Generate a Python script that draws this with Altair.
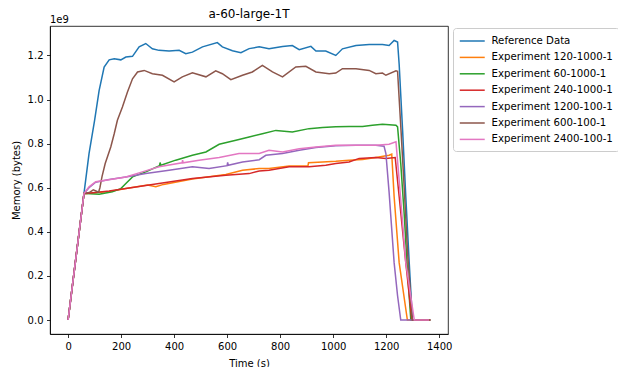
import altair as alt
import pandas as pd

chart_title = "a-60-large-1T"
series_names = [
    "Reference Data",
    "Experiment 120-1000-1",
    "Experiment 60-1000-1",
    "Experiment 240-1000-1",
    "Experiment 1200-100-1",
    "Experiment 600-100-1",
    "Experiment 2400-100-1",
]
series_colors = ["#1f77b4", "#ff7f0e", "#2ca02c", "#d62728", "#9467bd", "#8c564b", "#e377c2"]

# Memory in units of 1e9 bytes
ref_t = [0, 60, 79, 100, 117, 136, 155, 174, 199, 218, 243, 268, 293, 318, 343, 381, 419, 444, 469, 507,
         563, 582, 620, 652, 683, 721, 758, 809, 846, 872, 916, 935, 972, 1010, 1035, 1086, 1136, 1186,
         1211, 1230, 1243, 1249, 1262, 1274, 1287, 1299]
ref_m = [0, 0.574, 0.755, 0.906, 1.04, 1.147, 1.18, 1.185, 1.18, 1.193, 1.196, 1.239, 1.254, 1.23, 1.223,
         1.22, 1.223, 1.208, 1.215, 1.239, 1.258, 1.239, 1.221, 1.212, 1.231, 1.239, 1.23, 1.241, 1.245,
         1.226, 1.241, 1.22, 1.22, 1.2, 1.23, 1.245, 1.25, 1.25, 1.245, 1.268, 1.261, 1.16, 0.86, 0.56,
         0.26, 0]

e120_t = [0, 60, 67, 155, 218, 300, 331, 360, 469, 595, 658, 721, 758, 834, 905, 907, 960, 1010, 1060,
          1111, 1161, 1211, 1221, 1230, 1249, 1280, 1365]
e120_m = [0, 0.574, 0.574, 0.583, 0.596, 0.612, 0.604, 0.615, 0.64, 0.66, 0.679, 0.687, 0.687, 0.698,
          0.70, 0.713, 0.717, 0.72, 0.725, 0.728, 0.737, 0.747, 0.752, 0.56, 0.26, 0, 0]

e60_t = [0, 60, 67, 117, 167, 199, 218, 243, 293, 345, 347, 350, 406, 469, 520, 570, 633, 683, 733, 784,
         846, 909, 960, 1010, 1060, 1111, 1148, 1186, 1237, 1243, 1255, 1268, 1280, 1293, 1365]
e60_m = [0, 0.574, 0.574, 0.57, 0.582, 0.596, 0.619, 0.649, 0.672, 0.70, 0.714, 0.702, 0.725, 0.747,
         0.762, 0.797, 0.815, 0.83, 0.845, 0.86, 0.853, 0.868, 0.873, 0.876, 0.878, 0.878, 0.883, 0.888,
         0.883, 0.876, 0.71, 0.48, 0.23, 0, 0]

e240_t = [0, 60, 67, 155, 218, 343, 469, 595, 683, 721, 758, 834, 909, 972, 1010, 1060, 1098, 1161, 1199,
          1234, 1249, 1274, 1297, 1365]
e240_m = [0, 0.574, 0.574, 0.585, 0.596, 0.619, 0.642, 0.657, 0.664, 0.676, 0.679, 0.695, 0.695, 0.702,
          0.71, 0.717, 0.733, 0.737, 0.733, 0.737, 0.56, 0.26, 0, 0]

e1200_t = [0, 60, 79, 104, 155, 218, 293, 381, 469, 532, 600, 602, 604, 658, 721, 746, 809, 872, 935,
           1010, 1086, 1161, 1192, 1199, 1211, 1230, 1243, 1255, 1310]
e1200_m = [0, 0.574, 0.6, 0.625, 0.637, 0.649, 0.664, 0.679, 0.695, 0.687, 0.70, 0.715, 0.702, 0.717,
           0.727, 0.747, 0.755, 0.77, 0.782, 0.79, 0.793, 0.793, 0.788, 0.755, 0.58, 0.26, 0.11, 0, 0]

e600_t = [0, 60, 80, 95, 105, 115, 120, 128, 140, 161, 174, 186, 205, 224, 243, 262, 287, 318, 356, 400,
          431, 469, 520, 557, 582, 614, 658, 695, 733, 771, 809, 859, 897, 935, 985, 1010, 1035, 1086,
          1136, 1161, 1186, 1199, 1237, 1243, 1256, 1268, 1281, 1299, 1369]
e600_m = [0, 0.574, 0.578, 0.59, 0.585, 0.58, 0.6, 0.65, 0.71, 0.785, 0.845, 0.906, 0.966, 1.034, 1.094,
          1.125, 1.132, 1.117, 1.11, 1.08, 1.103, 1.121, 1.103, 1.13, 1.117, 1.09, 1.11, 1.125, 1.155,
          1.125, 1.103, 1.148, 1.151, 1.125, 1.117, 1.12, 1.14, 1.14, 1.132, 1.117, 1.12, 1.11, 1.13,
          1.128, 0.86, 0.6, 0.3, 0, 0]

e2400_t = [0, 60, 79, 104, 142, 218, 280, 343, 430, 432, 434, 494, 570, 645, 721, 758, 809, 872, 935,
           1010, 1086, 1161, 1211, 1237, 1249, 1274, 1306, 1362]
e2400_m = [0, 0.574, 0.604, 0.627, 0.634, 0.649, 0.672, 0.695, 0.713, 0.725, 0.713, 0.725, 0.737, 0.755,
           0.755, 0.77, 0.762, 0.777, 0.785, 0.793, 0.793, 0.793, 0.797, 0.808, 0.634, 0.26, 0, 0]

series_data = [
    (ref_t, ref_m), (e120_t, e120_m), (e60_t, e60_m), (e240_t, e240_m),
    (e1200_t, e1200_m), (e600_t, e600_m), (e2400_t, e2400_m),
]

rows = []
for idx, (name, (ts, ms)) in enumerate(zip(series_names, series_data)):
    for i, (t, m) in enumerate(zip(ts, ms)):
        rows.append({"series": name, "order": idx, "i": i, "t": t, "m": m})
df = pd.DataFrame(rows)

x_ticks = [0, 200, 400, 600, 800, 1000, 1200, 1400]
y_ticks = [0.0, 0.2, 0.4, 0.6, 0.8, 1.0, 1.2]

lines = alt.Chart(df).mark_line(strokeWidth=1.5, clip=True).encode(
    x=alt.X("t:Q", scale=alt.Scale(domain=[-68.25, 1433.25], nice=False, zero=False),
            axis=alt.Axis(values=x_ticks, format="d", title="Time (s)", titlePadding=7)),
    y=alt.Y("m:Q", scale=alt.Scale(domain=[-0.0635, 1.3335], nice=False, zero=False),
            axis=alt.Axis(values=y_ticks, format=".1f", title="Memory (bytes)", titlePadding=6)),
    color=alt.Color("series:N", scale=alt.Scale(domain=series_names, range=series_colors),
                    legend=alt.Legend(title=None, orient="none", legendX=403, legendY=2,
                                      symbolType="M-1,0H3", symbolSize=156, symbolStrokeWidth=1.5,
                                      labelFont="DejaVu Sans", labelFontSize=10.2, labelColor="#000000",
                                      labelOffset=18.5, rowPadding=3.4, padding=6,
                                      strokeColor="#cccccc", fillColor="#ffffff", cornerRadius=3)),
    detail="order:O",
    order="i:Q",
)

offset_text = alt.Chart(pd.DataFrame({"txt": ["1e9"]})).mark_text(
    align="left", baseline="alphabetic", font="DejaVu Sans", fontSize=10, color="black"
).encode(x=alt.value(0), y=alt.value(-3.5), text="txt:N")

title_text = alt.Chart(pd.DataFrame({"txt": [chart_title]})).mark_text(
    align="center", baseline="alphabetic", font="DejaVu Sans", fontSize=12, color="black"
).encode(x=alt.value(199), y=alt.value(-8.5), text="txt:N")

chart = alt.layer(lines, offset_text, title_text).properties(
    width=398, height=308,
    autosize=alt.AutoSizeParams(type="none"),
    padding={"left": 42, "top": 18, "right": 170, "bottom": 33},
).configure_view(stroke="black", strokeWidth=0.8).configure_axis(
    grid=False, domainColor="black", domainWidth=0.8, tickColor="black", tickWidth=0.8,
    tickSize=3.5, labelPadding=3.5, labelColor="black", labelFont="DejaVu Sans", labelFontSize=10,
    titleFont="DejaVu Sans", titleFontSize=10, titleFontWeight="normal", titleColor="black",
)

chart.save("out.html", embed_options={"renderer": "svg", "actions": False})
